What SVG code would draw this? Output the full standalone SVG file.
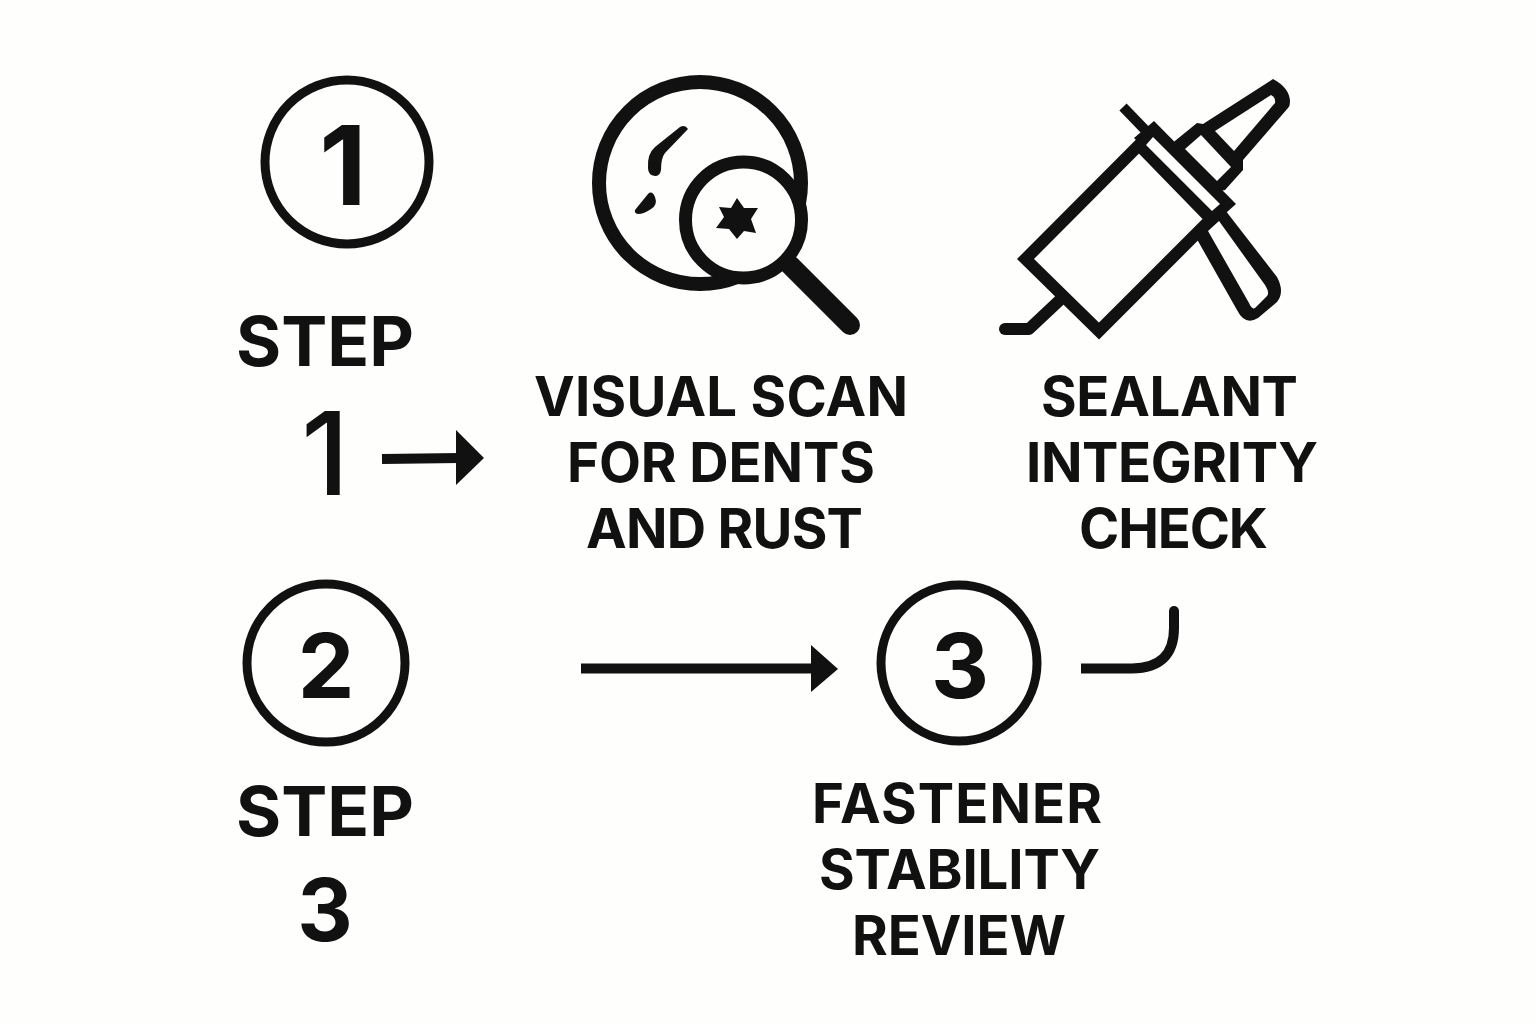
<svg xmlns="http://www.w3.org/2000/svg" width="1536" height="1024" viewBox="0 0 1536 1024">
<style>
.t{font-family:Inter,"Liberation Sans",sans-serif;font-weight:700;fill:#111;text-anchor:middle}
.l{font-size:54.500px}
.h{font-size:69px}
.c{fill:none;stroke:#111;stroke-width:9}
.s{fill:none;stroke:#111;stroke-linecap:round;stroke-linejoin:round}
.b{fill:none;stroke:#111;stroke-width:10}
.k{fill:#111}
.w{fill:#fefefc}
</style>
<rect width="1536" height="1024" fill="#fefefc"/>
<g id="badge1"><circle class="c" cx="347" cy="162" r="82"/><text class="t" x="343" y="205" font-size="110">1</text></g>
<g id="step1"><text class="t h" x="325" y="366">STEP</text><text class="t" x="325" y="495" font-size="115" style="font-weight:500">1</text></g>
<g id="inspect">
<circle cx="700" cy="183" r="101" fill="none" stroke="#111" stroke-width="14"/>
<path class="k" d="M680 127Q685 124 688 129L665 153Q661 158 661 170Q660 176 655 176Q648 175 648 168Q647 154 655 147Z"/>
<path class="k" d="M635 210L648 194Q652 190 655 197Q658 205 651 209Q644 214 638 214Q634 213 635 210Z"/>
<circle cx="743.500" cy="220" r="58" fill="#fefefc" stroke="#111" stroke-width="13"/>
<path class="s" d="M790 265L850 325" stroke-width="20"/>
<path class="k" d="M737 198L744 208L758 208L751 219L756 233L744 231L737 239L729 229L716 228L724 217L719 207L731 208Z"/>
</g>
<g id="gun">
<path d="M1062 298L1029 329L1005 329" fill="none" stroke="#111" stroke-width="12" stroke-linejoin="round"/>
<circle class="k" cx="1005" cy="329" r="6"/>
<path class="k" d="M1222 206L1277 277Q1285 292 1277 302L1258 318Q1245 326 1237 310L1198 241L1190 232Z"/>
<path class="w" d="M1025.500 259L1139 145L1211 219L1099 331Z" stroke="#111" stroke-width="12" stroke-linejoin="miter"/>
<path class="w" d="M1208 231L1219 221L1265 285Q1270 293 1267 296L1255 308Q1252 310 1249 303Z"/>
<path d="M1123 107L1150 135" class="b"/>
<path class="k" d="M1154 121L1236 204L1218 220L1134 138Z"/>
<path class="w" d="M1153 137L1220 204L1212 211L1146 145Z"/>
<path class="k" d="M1170 145L1197 123L1203 124L1273 79Q1290 88 1290 102Q1290 106 1288 108L1243 160L1243 170L1225 190L1215 192Z"/>
<path class="w" d="M1185 149L1201 135L1231 167L1217 181Z"/>
<path class="w" d="M1215 131L1271 95Q1276 98 1275 103L1234 151Z"/>
</g>
<g id="label1" class="t l"><text x="721" y="416" textLength="374">VISUAL SCAN</text><text x="721" y="482" textLength="308">FOR DENTS</text><text x="724.500" y="548" textLength="277">AND RUST</text></g>
<g id="label2" class="t l"><text x="1169.500" y="416" textLength="257">SEALANT</text><text x="1172" y="482" textLength="292">INTEGRITY</text><text x="1173.500" y="548" textLength="189">CHECK</text></g>
<g id="badge2"><circle class="c" cx="326" cy="663" r="79"/><text class="t" x="326" y="698" font-size="90">2</text></g>
<g id="step3"><text class="t h" x="325" y="836">STEP</text><text class="t" x="325" y="941" font-size="86">3</text></g>
<g id="badge3"><circle class="c" cx="959" cy="663" r="78"/><text class="t" x="960" y="698" font-size="90">3</text></g>
<g id="label3" class="t l"><text x="957" y="823" textLength="290">FASTENER</text><text x="959.500" y="889" textLength="281">STABILITY</text><text x="959" y="955" textLength="214">REVIEW</text></g>
<g id="connectors">
<path d="M382 459L460 458" class="b"/>
<path class="k" d="M456 430L484 458L456 485Z"/>
<path d="M581 668.500L815 668.500" class="b"/>
<path class="k" d="M811 645L838 669L811 692Z"/>
<path d="M1081 668.500L1132 668.500Q1174 668 1174 628L1174 611" class="b"/>
<circle class="k" cx="1174" cy="611" r="5"/>
</g>
</svg>
